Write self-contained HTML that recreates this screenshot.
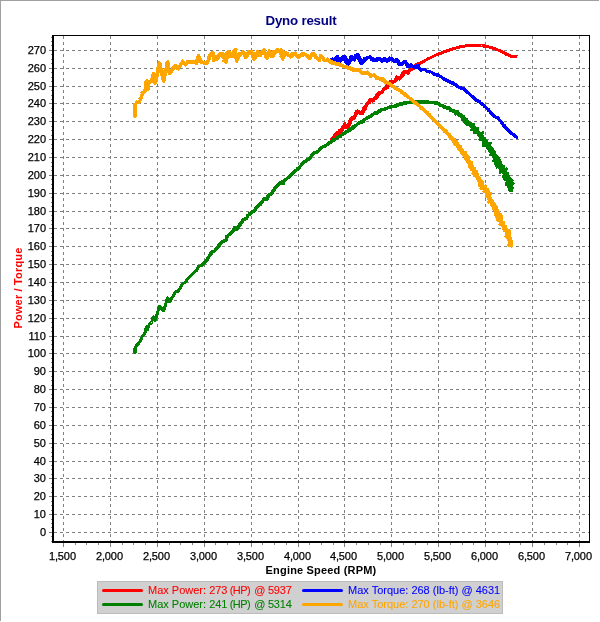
<!DOCTYPE html>
<html lang="en">
<head>
<meta charset="utf-8">
<title>Dyno result</title>
<style>
html,body{margin:0;padding:0;background:#ffffff;}
body{width:600px;height:622px;overflow:hidden;}
svg{display:block;}
</style>
</head>
<body>
<svg width="600" height="622" viewBox="0 0 600 622">
<rect x="0" y="0" width="600" height="622" fill="#ffffff"/>
<g shape-rendering="crispEdges">
<rect x="0" y="0" width="599" height="1" fill="#a0a0a0"/>
<rect x="0" y="0" width="1" height="621" fill="#a0a0a0"/>
<line x1="54" y1="532.5" x2="589" y2="532.5" stroke="#808080" stroke-width="1" stroke-dasharray="3 3"/>
<line x1="54" y1="514.5" x2="589" y2="514.5" stroke="#808080" stroke-width="1" stroke-dasharray="3 3"/>
<line x1="54" y1="496.5" x2="589" y2="496.5" stroke="#808080" stroke-width="1" stroke-dasharray="3 3"/>
<line x1="54" y1="478.5" x2="589" y2="478.5" stroke="#808080" stroke-width="1" stroke-dasharray="3 3"/>
<line x1="54" y1="461.5" x2="589" y2="461.5" stroke="#808080" stroke-width="1" stroke-dasharray="3 3"/>
<line x1="54" y1="443.5" x2="589" y2="443.5" stroke="#808080" stroke-width="1" stroke-dasharray="3 3"/>
<line x1="54" y1="425.5" x2="589" y2="425.5" stroke="#808080" stroke-width="1" stroke-dasharray="3 3"/>
<line x1="54" y1="407.5" x2="589" y2="407.5" stroke="#808080" stroke-width="1" stroke-dasharray="3 3"/>
<line x1="54" y1="389.5" x2="589" y2="389.5" stroke="#808080" stroke-width="1" stroke-dasharray="3 3"/>
<line x1="54" y1="371.5" x2="589" y2="371.5" stroke="#808080" stroke-width="1" stroke-dasharray="3 3"/>
<line x1="54" y1="353.5" x2="589" y2="353.5" stroke="#808080" stroke-width="1" stroke-dasharray="3 3"/>
<line x1="54" y1="336.5" x2="589" y2="336.5" stroke="#808080" stroke-width="1" stroke-dasharray="3 3"/>
<line x1="54" y1="318.5" x2="589" y2="318.5" stroke="#808080" stroke-width="1" stroke-dasharray="3 3"/>
<line x1="54" y1="300.5" x2="589" y2="300.5" stroke="#808080" stroke-width="1" stroke-dasharray="3 3"/>
<line x1="54" y1="282.5" x2="589" y2="282.5" stroke="#808080" stroke-width="1" stroke-dasharray="3 3"/>
<line x1="54" y1="264.5" x2="589" y2="264.5" stroke="#808080" stroke-width="1" stroke-dasharray="3 3"/>
<line x1="54" y1="246.5" x2="589" y2="246.5" stroke="#808080" stroke-width="1" stroke-dasharray="3 3"/>
<line x1="54" y1="228.5" x2="589" y2="228.5" stroke="#808080" stroke-width="1" stroke-dasharray="3 3"/>
<line x1="54" y1="211.5" x2="589" y2="211.5" stroke="#808080" stroke-width="1" stroke-dasharray="3 3"/>
<line x1="54" y1="193.5" x2="589" y2="193.5" stroke="#808080" stroke-width="1" stroke-dasharray="3 3"/>
<line x1="54" y1="175.5" x2="589" y2="175.5" stroke="#808080" stroke-width="1" stroke-dasharray="3 3"/>
<line x1="54" y1="157.5" x2="589" y2="157.5" stroke="#808080" stroke-width="1" stroke-dasharray="3 3"/>
<line x1="54" y1="139.5" x2="589" y2="139.5" stroke="#808080" stroke-width="1" stroke-dasharray="3 3"/>
<line x1="54" y1="121.5" x2="589" y2="121.5" stroke="#808080" stroke-width="1" stroke-dasharray="3 3"/>
<line x1="54" y1="103.5" x2="589" y2="103.5" stroke="#808080" stroke-width="1" stroke-dasharray="3 3"/>
<line x1="54" y1="86.5" x2="589" y2="86.5" stroke="#808080" stroke-width="1" stroke-dasharray="3 3"/>
<line x1="54" y1="68.5" x2="589" y2="68.5" stroke="#808080" stroke-width="1" stroke-dasharray="3 3"/>
<line x1="54" y1="50.5" x2="589" y2="50.5" stroke="#808080" stroke-width="1" stroke-dasharray="3 3"/>
<line x1="63.5" y1="36" x2="63.5" y2="541" stroke="#808080" stroke-width="1" stroke-dasharray="3 3"/>
<line x1="110.5" y1="36" x2="110.5" y2="541" stroke="#808080" stroke-width="1" stroke-dasharray="3 3"/>
<line x1="157.5" y1="36" x2="157.5" y2="541" stroke="#808080" stroke-width="1" stroke-dasharray="3 3"/>
<line x1="204.5" y1="36" x2="204.5" y2="541" stroke="#808080" stroke-width="1" stroke-dasharray="3 3"/>
<line x1="251.5" y1="36" x2="251.5" y2="541" stroke="#808080" stroke-width="1" stroke-dasharray="3 3"/>
<line x1="298.5" y1="36" x2="298.5" y2="541" stroke="#808080" stroke-width="1" stroke-dasharray="3 3"/>
<line x1="344.5" y1="36" x2="344.5" y2="541" stroke="#808080" stroke-width="1" stroke-dasharray="3 3"/>
<line x1="391.5" y1="36" x2="391.5" y2="541" stroke="#808080" stroke-width="1" stroke-dasharray="3 3"/>
<line x1="438.5" y1="36" x2="438.5" y2="541" stroke="#808080" stroke-width="1" stroke-dasharray="3 3"/>
<line x1="485.5" y1="36" x2="485.5" y2="541" stroke="#808080" stroke-width="1" stroke-dasharray="3 3"/>
<line x1="532.5" y1="36" x2="532.5" y2="541" stroke="#808080" stroke-width="1" stroke-dasharray="3 3"/>
<line x1="579.5" y1="36" x2="579.5" y2="541" stroke="#808080" stroke-width="1" stroke-dasharray="3 3"/>
<rect x="49" y="532" width="3" height="1" fill="#808080"/>
<rect x="51" y="527" width="1" height="1" fill="#808080"/>
<rect x="51" y="523" width="1" height="1" fill="#808080"/>
<rect x="51" y="519" width="1" height="1" fill="#808080"/>
<rect x="49" y="514" width="3" height="1" fill="#808080"/>
<rect x="51" y="510" width="1" height="1" fill="#808080"/>
<rect x="51" y="505" width="1" height="1" fill="#808080"/>
<rect x="51" y="501" width="1" height="1" fill="#808080"/>
<rect x="49" y="496" width="3" height="1" fill="#808080"/>
<rect x="51" y="492" width="1" height="1" fill="#808080"/>
<rect x="51" y="487" width="1" height="1" fill="#808080"/>
<rect x="51" y="483" width="1" height="1" fill="#808080"/>
<rect x="49" y="478" width="3" height="1" fill="#808080"/>
<rect x="51" y="474" width="1" height="1" fill="#808080"/>
<rect x="51" y="469" width="1" height="1" fill="#808080"/>
<rect x="51" y="465" width="1" height="1" fill="#808080"/>
<rect x="49" y="461" width="3" height="1" fill="#808080"/>
<rect x="51" y="456" width="1" height="1" fill="#808080"/>
<rect x="51" y="452" width="1" height="1" fill="#808080"/>
<rect x="51" y="447" width="1" height="1" fill="#808080"/>
<rect x="49" y="443" width="3" height="1" fill="#808080"/>
<rect x="51" y="438" width="1" height="1" fill="#808080"/>
<rect x="51" y="434" width="1" height="1" fill="#808080"/>
<rect x="51" y="429" width="1" height="1" fill="#808080"/>
<rect x="49" y="425" width="3" height="1" fill="#808080"/>
<rect x="51" y="420" width="1" height="1" fill="#808080"/>
<rect x="51" y="416" width="1" height="1" fill="#808080"/>
<rect x="51" y="411" width="1" height="1" fill="#808080"/>
<rect x="49" y="407" width="3" height="1" fill="#808080"/>
<rect x="51" y="403" width="1" height="1" fill="#808080"/>
<rect x="51" y="398" width="1" height="1" fill="#808080"/>
<rect x="51" y="394" width="1" height="1" fill="#808080"/>
<rect x="49" y="389" width="3" height="1" fill="#808080"/>
<rect x="51" y="385" width="1" height="1" fill="#808080"/>
<rect x="51" y="380" width="1" height="1" fill="#808080"/>
<rect x="51" y="376" width="1" height="1" fill="#808080"/>
<rect x="49" y="371" width="3" height="1" fill="#808080"/>
<rect x="51" y="367" width="1" height="1" fill="#808080"/>
<rect x="51" y="362" width="1" height="1" fill="#808080"/>
<rect x="51" y="358" width="1" height="1" fill="#808080"/>
<rect x="49" y="353" width="3" height="1" fill="#808080"/>
<rect x="51" y="349" width="1" height="1" fill="#808080"/>
<rect x="51" y="344" width="1" height="1" fill="#808080"/>
<rect x="51" y="340" width="1" height="1" fill="#808080"/>
<rect x="49" y="336" width="3" height="1" fill="#808080"/>
<rect x="51" y="331" width="1" height="1" fill="#808080"/>
<rect x="51" y="327" width="1" height="1" fill="#808080"/>
<rect x="51" y="322" width="1" height="1" fill="#808080"/>
<rect x="49" y="318" width="3" height="1" fill="#808080"/>
<rect x="51" y="313" width="1" height="1" fill="#808080"/>
<rect x="51" y="309" width="1" height="1" fill="#808080"/>
<rect x="51" y="304" width="1" height="1" fill="#808080"/>
<rect x="49" y="300" width="3" height="1" fill="#808080"/>
<rect x="51" y="295" width="1" height="1" fill="#808080"/>
<rect x="51" y="291" width="1" height="1" fill="#808080"/>
<rect x="51" y="286" width="1" height="1" fill="#808080"/>
<rect x="49" y="282" width="3" height="1" fill="#808080"/>
<rect x="51" y="278" width="1" height="1" fill="#808080"/>
<rect x="51" y="273" width="1" height="1" fill="#808080"/>
<rect x="51" y="269" width="1" height="1" fill="#808080"/>
<rect x="49" y="264" width="3" height="1" fill="#808080"/>
<rect x="51" y="260" width="1" height="1" fill="#808080"/>
<rect x="51" y="255" width="1" height="1" fill="#808080"/>
<rect x="51" y="251" width="1" height="1" fill="#808080"/>
<rect x="49" y="246" width="3" height="1" fill="#808080"/>
<rect x="51" y="242" width="1" height="1" fill="#808080"/>
<rect x="51" y="237" width="1" height="1" fill="#808080"/>
<rect x="51" y="233" width="1" height="1" fill="#808080"/>
<rect x="49" y="228" width="3" height="1" fill="#808080"/>
<rect x="51" y="224" width="1" height="1" fill="#808080"/>
<rect x="51" y="220" width="1" height="1" fill="#808080"/>
<rect x="51" y="215" width="1" height="1" fill="#808080"/>
<rect x="49" y="211" width="3" height="1" fill="#808080"/>
<rect x="51" y="206" width="1" height="1" fill="#808080"/>
<rect x="51" y="202" width="1" height="1" fill="#808080"/>
<rect x="51" y="197" width="1" height="1" fill="#808080"/>
<rect x="49" y="193" width="3" height="1" fill="#808080"/>
<rect x="51" y="188" width="1" height="1" fill="#808080"/>
<rect x="51" y="184" width="1" height="1" fill="#808080"/>
<rect x="51" y="179" width="1" height="1" fill="#808080"/>
<rect x="49" y="175" width="3" height="1" fill="#808080"/>
<rect x="51" y="170" width="1" height="1" fill="#808080"/>
<rect x="51" y="166" width="1" height="1" fill="#808080"/>
<rect x="51" y="162" width="1" height="1" fill="#808080"/>
<rect x="49" y="157" width="3" height="1" fill="#808080"/>
<rect x="51" y="153" width="1" height="1" fill="#808080"/>
<rect x="51" y="148" width="1" height="1" fill="#808080"/>
<rect x="51" y="144" width="1" height="1" fill="#808080"/>
<rect x="49" y="139" width="3" height="1" fill="#808080"/>
<rect x="51" y="135" width="1" height="1" fill="#808080"/>
<rect x="51" y="130" width="1" height="1" fill="#808080"/>
<rect x="51" y="126" width="1" height="1" fill="#808080"/>
<rect x="49" y="121" width="3" height="1" fill="#808080"/>
<rect x="51" y="117" width="1" height="1" fill="#808080"/>
<rect x="51" y="112" width="1" height="1" fill="#808080"/>
<rect x="51" y="108" width="1" height="1" fill="#808080"/>
<rect x="49" y="103" width="3" height="1" fill="#808080"/>
<rect x="51" y="99" width="1" height="1" fill="#808080"/>
<rect x="51" y="95" width="1" height="1" fill="#808080"/>
<rect x="51" y="90" width="1" height="1" fill="#808080"/>
<rect x="49" y="86" width="3" height="1" fill="#808080"/>
<rect x="51" y="81" width="1" height="1" fill="#808080"/>
<rect x="51" y="77" width="1" height="1" fill="#808080"/>
<rect x="51" y="72" width="1" height="1" fill="#808080"/>
<rect x="49" y="68" width="3" height="1" fill="#808080"/>
<rect x="51" y="63" width="1" height="1" fill="#808080"/>
<rect x="51" y="59" width="1" height="1" fill="#808080"/>
<rect x="51" y="54" width="1" height="1" fill="#808080"/>
<rect x="49" y="50" width="3" height="1" fill="#808080"/>
<rect x="51" y="45" width="1" height="1" fill="#808080"/>
<rect x="51" y="41" width="1" height="1" fill="#808080"/>
<rect x="51" y="37" width="1" height="1" fill="#808080"/>
<rect x="51" y="536" width="1" height="1" fill="#808080"/>
<rect x="51" y="541" width="1" height="1" fill="#808080"/>
<rect x="63" y="543" width="1" height="4" fill="#808080"/>
<rect x="75" y="543" width="1" height="2" fill="#808080"/>
<rect x="86" y="543" width="1" height="2" fill="#808080"/>
<rect x="98" y="543" width="1" height="2" fill="#808080"/>
<rect x="110" y="543" width="1" height="4" fill="#808080"/>
<rect x="122" y="543" width="1" height="2" fill="#808080"/>
<rect x="133" y="543" width="1" height="2" fill="#808080"/>
<rect x="145" y="543" width="1" height="2" fill="#808080"/>
<rect x="157" y="543" width="1" height="4" fill="#808080"/>
<rect x="169" y="543" width="1" height="2" fill="#808080"/>
<rect x="180" y="543" width="1" height="2" fill="#808080"/>
<rect x="192" y="543" width="1" height="2" fill="#808080"/>
<rect x="204" y="543" width="1" height="4" fill="#808080"/>
<rect x="215" y="543" width="1" height="2" fill="#808080"/>
<rect x="227" y="543" width="1" height="2" fill="#808080"/>
<rect x="239" y="543" width="1" height="2" fill="#808080"/>
<rect x="251" y="543" width="1" height="4" fill="#808080"/>
<rect x="262" y="543" width="1" height="2" fill="#808080"/>
<rect x="274" y="543" width="1" height="2" fill="#808080"/>
<rect x="286" y="543" width="1" height="2" fill="#808080"/>
<rect x="298" y="543" width="1" height="4" fill="#808080"/>
<rect x="309" y="543" width="1" height="2" fill="#808080"/>
<rect x="321" y="543" width="1" height="2" fill="#808080"/>
<rect x="333" y="543" width="1" height="2" fill="#808080"/>
<rect x="344" y="543" width="1" height="4" fill="#808080"/>
<rect x="356" y="543" width="1" height="2" fill="#808080"/>
<rect x="368" y="543" width="1" height="2" fill="#808080"/>
<rect x="380" y="543" width="1" height="2" fill="#808080"/>
<rect x="391" y="543" width="1" height="4" fill="#808080"/>
<rect x="403" y="543" width="1" height="2" fill="#808080"/>
<rect x="415" y="543" width="1" height="2" fill="#808080"/>
<rect x="427" y="543" width="1" height="2" fill="#808080"/>
<rect x="438" y="543" width="1" height="4" fill="#808080"/>
<rect x="450" y="543" width="1" height="2" fill="#808080"/>
<rect x="462" y="543" width="1" height="2" fill="#808080"/>
<rect x="473" y="543" width="1" height="2" fill="#808080"/>
<rect x="485" y="543" width="1" height="4" fill="#808080"/>
<rect x="497" y="543" width="1" height="2" fill="#808080"/>
<rect x="509" y="543" width="1" height="2" fill="#808080"/>
<rect x="520" y="543" width="1" height="2" fill="#808080"/>
<rect x="532" y="543" width="1" height="4" fill="#808080"/>
<rect x="544" y="543" width="1" height="2" fill="#808080"/>
<rect x="556" y="543" width="1" height="2" fill="#808080"/>
<rect x="567" y="543" width="1" height="2" fill="#808080"/>
<rect x="579" y="543" width="1" height="4" fill="#808080"/>
</g>
<g fill="none" stroke-width="3" stroke-linejoin="round" stroke-linecap="butt" shape-rendering="crispEdges">
<polyline stroke="#ff0000" points="331.2,140.2 331.2,139.5 331.9,139.6 332.0,138.9 332.7,139.0 332.7,138.2 333.4,138.3 333.4,137.5 334.2,137.6 333.7,136.5 335.1,137.0 334.6,136.0 335.8,136.3 334.9,134.9 336.0,135.3 335.9,134.5 336.9,135.1 336.4,133.5 336.9,133.8 336.9,132.5 337.2,133.4 337.4,133.4 337.8,135.1 337.7,133.9 338.1,135.3 338.2,135.2 338.6,136.4 338.3,134.6 338.9,135.2 338.7,134.3 339.4,134.3 339.1,133.4 339.6,133.2 339.3,132.5 340.2,132.4 339.5,131.5 340.4,131.4 339.6,130.3 341.1,130.6 340.9,129.9 342.4,130.3 341.5,129.2 343.0,129.6 342.3,128.5 343.1,128.5 342.2,127.2 343.5,127.5 343.2,126.6 344.0,126.7 343.8,125.7 344.4,125.8 344.3,124.6 344.9,125.2 345.0,123.8 345.2,125.8 345.5,125.0 345.6,126.0 346.0,125.6 346.0,127.3 346.3,126.8 346.5,127.8 347.0,127.1 347.5,127.4 347.8,126.8 348.9,127.6 348.2,126.0 349.0,126.1 348.5,125.2 349.3,125.1 348.4,124.1 349.7,124.2 349.2,123.4 350.1,123.2 349.4,122.5 351.0,122.5 349.3,121.4 350.9,121.4 350.0,120.5 351.1,120.5 350.7,119.6 351.4,119.7 350.9,118.6 351.6,118.6 351.5,117.9 352.4,118.4 352.3,117.8 353.3,118.3 353.5,118.1 354.2,118.3 354.0,117.4 354.8,117.6 354.3,116.4 355.3,116.6 354.6,115.6 355.4,115.5 355.2,114.8 355.9,114.6 355.5,113.9 356.4,113.8 355.9,112.9 356.8,113.0 356.3,111.9 357.0,112.1 356.8,111.0 357.3,111.5 357.6,111.0 358.1,112.0 358.6,111.1 358.9,112.7 359.5,111.6 359.8,113.1 360.4,112.5 360.8,113.7 361.2,113.1 361.8,113.7 361.9,112.9 362.7,113.5 362.4,112.2 362.9,112.2 362.5,111.2 363.7,111.5 363.0,110.4 363.9,110.4 363.4,109.5 364.4,109.5 363.8,108.6 365.4,108.9 363.9,107.5 365.4,107.8 364.9,106.9 365.9,106.9 365.5,106.1 366.3,106.0 365.9,105.2 366.9,105.2 366.7,104.5 367.4,104.4 367.2,103.6 367.9,103.5 367.6,102.7 368.6,102.8 368.3,101.9 369.6,102.5 369.1,101.2 369.7,101.2 369.4,99.8 370.4,100.5 370.3,99.5 371.3,100.3 371.4,99.6 372.6,101.0 372.5,99.8 373.4,100.6 373.3,99.3 374.1,99.7 374.0,98.6 374.9,99.0 374.9,98.3 375.9,98.6 375.4,97.4 376.9,98.1 376.1,96.7 377.3,97.1 376.3,95.6 377.7,96.2 376.9,94.8 378.3,95.3 378.0,94.4 378.7,94.4 378.4,93.4 379.2,93.6 379.1,92.7 380.1,93.1 380.0,92.3 380.8,92.6 381.0,92.0 382.2,92.8 381.9,91.7 382.6,91.8 382.5,90.9 383.2,90.9 383.2,90.1 383.8,90.2 383.3,88.8 384.5,89.4 384.4,88.6 385.4,88.9 385.1,87.9 386.0,88.1 385.9,87.4 387.1,87.8 386.9,87.0 388.0,87.4 387.0,85.9 388.3,86.3 388.0,85.4 388.7,85.4 388.3,84.4 389.3,84.7 388.9,83.6 389.6,83.6 389.5,82.8 390.3,83.1 389.7,81.5 391.0,82.4 391.1,81.7 392.1,82.5 392.0,81.3 393.3,82.4 393.1,81.3 393.9,81.6 394.0,80.9 394.9,81.3 394.8,80.4 395.9,80.9 395.3,79.6 396.3,80.1 395.8,78.7 396.5,78.9 396.2,77.7 396.8,77.9 396.8,76.9 397.4,77.3 397.6,77.1 398.3,78.0 398.5,77.5 399.4,79.0 399.4,78.1 400.1,78.8 400.0,77.5 400.7,78.1 400.7,77.1 401.2,77.1 401.2,76.3 402.0,76.4 401.2,75.0 402.5,75.4 402.1,74.5 403.3,74.8 402.4,73.5 403.7,73.9 403.1,72.5 404.3,73.2 404.0,71.7 404.9,72.4 404.9,71.3 405.5,71.6 405.7,71.1 406.6,72.7 406.3,71.1 407.1,72.6 407.3,72.0 408.1,73.4 408.1,72.2 408.6,72.5 408.7,71.6 409.2,71.6 409.2,70.7 409.8,70.8 409.9,70.1 410.5,70.0 410.4,69.2 411.6,69.9 411.2,68.6 412.1,69.0 412.0,68.1 413.0,68.7 413.2,68.0 413.9,68.3 414.1,67.6 414.7,67.7 414.8,66.9 415.5,67.0 415.4,66.1 416.3,66.5 415.8,64.9 417.1,65.9 416.6,64.3 417.7,65.0 417.7,64.2 418.8,65.0 418.2,63.1 419.6,64.3 419.5,63.4 420.2,63.4 420.5,63.0 421.0,63.0 421.3,62.4 421.9,62.5 422.1,61.9 422.7,61.8 423.0,61.5 423.5,61.3 423.9,61.0 424.5,61.0 424.8,60.5 425.4,60.5 425.6,60.0 426.2,60.0 426.6,59.6 427.1,59.5 427.5,59.2 428.0,59.1 428.3,58.6 428.9,58.6 429.3,58.3 429.8,58.2 430.2,57.9 430.7,57.9 431.1,57.4 431.6,57.3 432.0,57.0 432.5,56.9 432.9,56.5 433.4,56.4 433.7,56.0 434.3,56.0 434.6,55.6 435.1,55.5 435.5,55.1 436.1,55.1 436.4,54.7 437.1,54.9 437.4,54.5 438.0,54.5 438.3,54.0 438.9,54.1 439.3,53.7 439.8,53.6 440.2,53.4 440.7,53.3 441.1,53.0 441.6,52.9 442.1,52.6 442.6,52.5 443.0,52.2 443.5,52.2 443.9,51.9 444.4,51.8 444.8,51.5 445.4,51.5 445.8,51.2 446.3,51.2 446.8,50.9 447.3,50.9 447.7,50.6 448.2,50.6 448.7,50.3 449.2,50.4 449.6,49.9 450.2,50.0 450.6,49.7 451.1,49.7 451.5,49.3 452.0,49.3 452.4,49.0 453.0,48.9 453.4,48.6 453.9,48.7 454.3,48.4 454.9,48.3 455.3,48.1 455.8,48.1 456.3,47.8 456.8,47.9 457.2,47.5 457.7,47.5 458.2,47.2 458.7,47.2 459.1,47.0 459.7,47.0 460.1,46.7 460.6,46.8 461.1,46.6 461.6,46.6 462.1,46.4 462.6,46.5 463.1,46.3 463.6,46.4 464.1,46.1 464.6,46.1 465.1,45.9 465.6,46.0 466.1,45.8 466.6,45.9 467.0,45.6 467.6,45.9 468.0,45.5 468.6,45.8 469.0,45.3 469.5,45.6 470.0,45.4 470.5,45.5 471.0,45.4 471.5,45.5 472.0,45.3 472.5,45.4 473.0,45.2 473.5,45.5 474.0,45.1 474.5,45.4 475.0,45.1 475.5,45.3 476.0,45.2 476.5,45.3 477.0,45.2 477.5,45.5 478.0,45.3 478.5,45.4 479.0,45.3 479.5,45.6 480.0,45.3 480.5,45.4 481.0,45.4 481.5,45.5 482.0,45.5 482.5,45.7 483.0,45.7 483.5,46.1 484.0,45.9 484.5,46.1 485.0,46.0 485.4,46.3 486.0,46.3 486.4,46.5 487.0,46.3 487.4,46.8 487.9,46.6 488.3,47.0 488.9,46.9 489.3,47.1 489.8,47.2 490.3,47.4 490.8,47.4 491.3,47.7 491.8,47.6 492.2,48.0 492.7,48.0 493.2,48.3 493.7,48.2 494.1,48.6 494.7,48.4 495.1,48.9 495.6,48.9 496.0,49.2 496.6,49.2 496.9,49.6 497.4,49.7 497.8,50.0 498.4,50.0 498.7,50.6 499.3,50.5 499.6,51.0 500.2,50.9 500.6,51.2 501.1,51.3 501.5,51.6 502.0,51.7 502.3,52.2 502.9,52.2 503.3,52.6 503.8,52.7 504.1,53.1 504.7,53.1 504.9,53.7 505.6,53.6 505.8,54.1 506.4,54.0 506.8,54.5 507.2,54.6 507.6,55.0 508.2,54.9 508.6,55.4 509.1,55.5 509.4,55.9 510.0,55.9 510.4,56.1 510.9,56.0 511.4,56.3 511.9,56.2 512.4,56.4 512.9,56.3 513.4,56.6 513.9,56.5 514.4,56.7 514.9,56.4 515.4,56.6 515.9,56.4 516.4,56.6 516.9,56.4 517.4,56.6"/>
<polyline stroke="#0000ff" points="330.9,59.9 331.5,59.2 332.0,60.0 332.4,58.9 333.1,60.1 333.4,59.3 334.2,60.6 334.4,59.6 335.1,60.5 335.2,59.0 335.7,59.9 335.8,57.4 336.2,58.9 336.7,56.7 336.8,58.0 337.7,56.3 337.0,58.5 337.9,58.1 336.9,59.6 338.1,59.4 337.1,60.4 338.4,60.4 337.2,61.5 338.5,61.4 336.9,63.0 338.7,62.1 338.2,63.6 338.5,63.0 338.9,63.4 338.4,61.7 339.6,62.8 338.9,61.1 340.0,61.7 339.3,60.4 340.4,60.7 339.4,59.2 340.9,60.0 339.8,58.3 341.5,59.5 341.5,58.8 342.5,59.3 341.9,57.6 343.6,59.7 343.0,56.7 343.8,58.1 344.1,57.1 344.4,57.8 344.9,56.3 344.7,57.6 345.4,56.9 345.1,57.9 345.8,57.9 344.9,59.0 346.4,58.8 345.5,59.8 346.4,59.9 345.7,60.7 347.0,60.7 345.7,61.9 347.0,61.6 346.0,63.0 347.2,62.5 347.2,63.4 347.9,63.0 348.1,64.2 348.4,63.5 348.8,63.8 348.5,62.4 349.5,63.0 348.2,61.2 349.7,61.8 348.4,60.5 350.3,60.9 349.6,60.1 350.4,59.9 350.1,59.2 351.1,59.2 350.6,58.2 351.1,58.1 350.8,57.1 351.7,58.0 351.4,56.1 351.8,57.1 352.1,56.8 352.3,57.9 352.7,57.8 352.9,58.9 353.3,58.7 353.4,59.9 353.8,59.3 354.1,60.1 354.2,59.1 354.9,59.6 354.5,58.1 355.4,58.5 354.5,57.0 355.7,57.4 355.5,56.6 356.3,56.7 355.8,55.4 356.8,56.0 356.6,54.7 357.0,54.8 357.2,54.6 357.3,55.6 358.3,54.8 357.6,56.4 358.4,56.4 358.1,57.2 359.5,57.0 357.8,58.5 359.9,57.9 358.6,59.2 359.9,59.1 359.3,60.0 360.8,59.7 359.7,60.9 360.9,60.7 360.4,61.7 361.4,61.4 360.7,63.2 361.9,61.7 361.7,63.6 362.1,62.9 362.4,63.3 362.6,62.4 363.1,62.5 363.1,61.6 363.9,61.9 363.4,60.6 364.3,60.8 364.3,60.1 364.9,60.0 364.3,58.6 365.6,59.4 365.5,58.4 366.5,58.9 366.5,57.9 367.3,58.4 367.4,57.5 368.1,58.0 368.4,57.1 369.0,57.6 369.5,56.8 369.9,57.7 370.5,56.7 370.7,57.6 371.2,57.4 371.3,58.5 371.9,58.1 371.6,59.8 372.5,59.0 372.6,59.9 373.5,59.0 373.4,60.5 374.3,59.1 374.4,60.6 375.0,60.1 375.5,60.7 375.9,59.8 376.5,60.5 376.7,59.0 377.3,60.0 377.6,58.4 378.2,59.5 378.6,58.8 379.0,59.8 379.5,58.2 379.9,59.1 380.3,58.7 380.6,59.7 381.1,59.1 381.4,60.6 381.8,60.1 382.0,61.5 382.8,59.9 383.1,60.6 383.9,58.9 384.1,60.3 384.7,58.6 385.1,60.6 385.5,59.2 386.0,60.3 386.2,59.3 387.1,61.5 387.2,60.5 387.8,61.2 388.0,60.0 388.5,60.5 388.7,58.5 389.1,59.5 389.4,57.8 389.8,59.0 390.2,58.1 390.6,59.1 391.1,58.4 391.3,59.6 392.2,58.6 392.1,60.2 392.7,59.9 392.9,60.9 393.5,60.6 393.7,61.5 394.3,60.8 394.6,61.9 395.1,61.1 395.4,61.3 396.0,59.6 396.0,60.8 396.6,59.7 396.7,60.1 397.2,59.4 397.0,61.1 397.8,60.3 397.2,61.9 398.4,61.2 398.2,62.1 399.0,62.0 398.3,63.5 399.3,63.0 399.3,63.9 400.0,63.4 399.8,65.0 400.4,64.0 400.8,64.3 401.2,63.5 401.8,64.5 402.1,63.0 402.6,63.6 402.9,62.5 403.5,63.0 403.9,61.5 404.4,62.6 405.1,61.1 405.0,63.0 405.9,61.8 405.8,63.0 406.3,63.0 406.3,63.8 407.0,63.6 406.6,64.9 407.5,64.4 407.2,65.7 407.9,65.4 407.6,66.9 408.6,65.3 408.6,66.4 409.2,65.5 409.3,66.8 410.1,65.2 410.4,65.5 411.0,64.5 411.3,65.6 411.8,65.1 412.1,66.0 412.6,65.8 412.9,66.6 413.4,66.3 413.7,67.4 414.4,66.5 414.6,67.4 415.3,66.6 415.7,67.0 416.5,65.7 416.6,67.1 417.4,66.2 417.6,66.9 418.6,65.6 418.3,67.4 419.1,67.0 418.8,68.4 419.6,67.9 419.6,68.9 420.3,68.5 420.4,69.5 420.8,69.6 421.1,70.1 421.6,69.7 421.9,70.1 422.6,69.3 422.9,69.8 423.5,69.1 423.9,69.2 424.4,69.2 424.7,69.8 425.2,69.7 425.5,70.4 426.0,70.4 426.2,71.1 426.7,71.1 427.0,71.7 427.6,71.4 427.9,71.9 428.6,71.4 429.0,71.9 429.6,71.6 429.9,72.1 430.6,71.8 431.0,72.1 431.5,72.2 431.8,72.7 432.3,72.7 432.7,73.2 433.2,73.2 433.5,73.7 434.0,73.8 434.2,74.6 434.9,74.2 435.3,74.7 435.9,74.5 436.2,75.0 436.8,74.8 437.0,75.6 437.9,74.8 438.0,75.8 438.7,75.4 439.0,75.9 439.6,76.0 439.9,76.5 440.5,76.3 440.8,76.9 441.3,77.0 441.6,77.4 442.2,77.5 442.4,78.0 443.0,78.0 443.3,78.5 443.9,78.5 444.0,79.3 444.7,79.0 445.0,79.6 445.6,79.5 445.9,80.1 446.6,79.8 446.8,80.5 447.4,80.4 447.7,81.0 448.4,80.7 448.6,81.4 449.3,81.1 449.4,81.9 450.2,81.6 450.3,82.4 451.0,82.2 451.2,82.8 451.9,82.6 452.1,83.2 452.9,82.9 452.9,83.8 453.8,83.3 453.9,84.1 454.6,84.0 454.8,84.6 455.4,84.5 455.6,85.2 456.3,85.0 456.5,85.7 457.1,85.6 457.2,86.3 457.9,86.2 458.1,86.8 458.7,86.8 458.8,87.6 459.5,87.3 459.8,87.8 460.4,87.8 460.8,88.2 461.4,88.0 461.6,88.7 462.3,88.5 462.6,89.0 463.2,88.9 463.6,89.3 464.3,89.0 464.5,89.6 465.2,89.5 465.2,90.3 465.7,90.5 465.9,91.0 466.6,91.0 466.6,91.7 467.2,91.8 467.4,92.4 468.0,92.5 468.1,93.0 468.8,93.0 468.8,93.7 469.5,93.8 469.6,94.4 470.2,94.4 470.4,95.0 471.0,95.0 471.1,95.7 471.6,95.8 471.7,96.5 472.5,96.4 472.6,97.0 473.4,96.9 473.4,97.7 474.1,97.6 473.9,98.6 474.6,98.5 474.9,99.0 475.4,99.1 475.4,99.9 476.2,99.7 476.4,100.3 477.0,100.3 477.3,100.8 477.9,100.8 478.1,101.3 478.7,101.4 478.9,101.9 479.7,101.7 479.7,102.5 480.3,102.6 480.6,103.1 481.1,103.2 481.3,103.8 481.9,103.8 482.1,104.4 482.7,104.4 482.8,105.1 483.4,105.1 483.7,105.6 484.3,105.6 484.4,106.3 485.0,106.3 485.1,106.9 485.7,107.0 485.8,107.7 486.4,107.8 486.6,108.3 487.1,108.5 487.2,109.1 487.9,109.1 488.0,109.7 488.8,109.6 488.5,110.6 489.3,110.6 489.4,111.1 490.0,111.2 490.1,111.9 490.6,112.1 490.4,112.9 491.4,112.7 491.3,113.4 491.9,113.6 491.8,114.3 492.5,114.4 492.6,114.9 493.2,115.1 493.2,115.8 493.9,115.7 493.9,116.5 494.5,116.4 494.8,116.9 495.4,116.8 495.7,117.3 496.4,117.1 496.7,117.6 497.4,117.5 497.5,118.1 498.2,117.9 498.3,118.6 498.8,118.8 498.9,119.4 499.4,119.6 499.6,120.1 500.1,120.3 500.1,120.9 500.7,121.2 500.8,121.7 501.4,121.9 501.1,122.7 502.1,122.6 502.0,123.3 502.6,123.4 502.5,124.2 503.2,124.3 503.2,124.9 503.8,125.1 503.6,125.9 504.6,125.7 504.4,126.5 505.0,126.7 505.1,127.2 505.7,127.4 505.7,128.1 506.3,128.2 506.3,128.9 507.0,128.9 507.2,129.4 507.8,129.5 507.9,130.1 508.4,130.3 508.4,131.0 509.1,131.0 509.3,131.5 509.8,131.7 510.1,132.2 510.7,132.2 510.8,132.9 511.5,132.8 511.6,133.5 512.3,133.4 512.4,134.1 513.0,134.1 513.2,134.6 513.8,134.7 513.8,135.5 514.6,135.3 514.8,135.9 515.3,136.0 515.5,136.5 516.1,136.7 516.3,137.2 516.9,137.3 517.0,137.9 517.6,138.0"/>
<polyline stroke="#008000" points="134.0,347.6 134.1,348.1 134.2,348.6 134.3,349.1 134.4,349.6 134.5,350.1 134.6,350.6 134.7,351.1 134.8,351.5 134.9,352.0 134.9,352.5 135.0,352.6 135.1,352.1 135.2,351.6 135.2,351.1 135.3,350.6 135.4,350.1 135.4,349.6 135.5,349.1 135.6,348.6 135.7,348.1 135.8,347.6 135.9,347.1 135.9,346.6 136.1,346.1 136.2,345.7 136.4,345.2 136.7,344.8 137.0,344.5 137.5,344.3 138.0,344.1 138.4,343.8 138.7,343.4 138.9,343.0 139.2,342.6 139.4,342.1 139.7,341.7 140.0,341.3 140.2,340.9 140.5,340.4 140.7,340.0 141.0,339.5 141.2,339.1 141.3,338.6 141.5,338.2 141.7,337.7 141.9,337.2 142.1,336.8 142.3,336.3 142.5,335.9 142.8,335.5 143.2,335.1 143.5,334.7 143.8,334.3 144.1,334.0 144.5,333.6 144.8,333.2 145.0,332.8 145.1,332.3 145.2,331.8 145.3,331.3 145.4,330.8 145.5,330.3 145.6,329.8 145.7,329.3 145.8,328.8 145.9,328.4 146.0,327.9 146.1,327.4 146.3,326.9 146.5,326.8 146.7,327.3 146.8,327.8 147.0,328.2 147.1,328.7 147.3,329.2 147.4,329.7 147.6,329.7 147.7,329.2 147.8,328.7 148.0,328.3 148.1,327.8 148.3,327.3 148.4,326.8 148.5,326.3 148.7,325.9 148.8,325.4 149.0,324.9 149.3,324.5 149.6,324.2 150.0,323.8 150.4,323.5 150.7,323.2 151.1,322.8 151.5,322.5 151.7,322.0 151.9,321.6 152.0,321.1 152.2,320.6 152.3,320.1 152.4,319.7 152.6,319.2 152.7,318.7 152.8,318.2 153.0,317.7 153.2,317.3 153.5,317.0 153.7,317.5 153.9,317.9 154.1,318.4 154.3,318.8 154.5,319.3 154.7,319.8 154.9,320.2 155.1,320.0 155.3,319.6 155.4,319.1 155.6,318.6 155.7,318.1 155.9,317.7 156.1,317.2 156.2,316.7 156.4,316.2 156.5,315.8 156.7,315.3 156.8,314.8 157.0,314.3 157.2,313.9 157.3,313.4 157.5,312.9 157.6,312.4 157.8,312.0 157.9,311.5 158.0,311.0 158.2,310.5 158.3,310.0 158.5,309.6 158.6,309.1 158.7,308.6 158.9,308.1 159.0,307.6 159.1,307.2 159.3,306.7 159.4,306.2 159.6,306.1 159.9,306.5 160.2,306.9 160.5,307.3 160.8,307.7 161.1,308.1 161.4,308.5 161.7,308.9 162.0,309.3 162.3,309.7 162.7,310.1 163.0,310.4 163.3,310.8 163.6,310.9 163.8,310.5 164.1,310.0 164.2,309.6 164.3,309.1 164.4,308.6 164.6,308.1 164.7,307.6 164.8,307.2 165.0,306.7 165.1,306.2 165.2,305.7 165.4,305.2 165.5,304.7 165.6,304.3 165.8,303.8 165.9,303.3 166.0,302.8 166.2,302.3 166.3,301.9 166.5,301.4 166.6,300.9 166.8,300.4 166.9,299.9 167.0,299.5 167.2,299.0 167.3,298.5 167.5,298.0 167.7,298.2 167.9,298.7 168.2,299.1 168.4,299.5 168.6,300.0 168.9,300.4 169.1,300.9 169.3,301.3 169.7,301.5 170.1,301.3 170.3,300.9 170.5,300.4 170.8,300.0 171.0,299.6 171.3,299.1 171.5,298.7 171.7,298.2 172.0,297.8 172.2,297.4 172.5,296.9 172.7,296.5 173.0,296.1 173.3,295.7 173.5,295.2 173.8,294.8 174.1,294.4 174.3,294.0 174.6,293.5 174.9,293.1 175.1,292.7 175.4,292.3 175.8,291.9 176.2,291.7 176.7,291.7 177.2,291.6 177.7,291.6 178.1,291.4 178.3,291.0 178.6,290.6 178.8,290.1 179.1,289.7 179.3,289.3 179.6,288.8 179.8,288.4 180.1,288.0 180.3,287.5 180.6,287.1 180.8,286.7 181.1,286.2 181.3,285.8 181.6,285.4 181.8,284.9 182.1,284.5 182.3,284.1 182.7,283.7 183.1,283.5 183.5,283.2 184.0,283.0 184.4,282.7 184.8,282.5 185.3,282.2 185.7,281.9 186.0,281.6 186.2,281.1 186.5,280.7 186.7,280.3 187.0,279.8 187.2,279.4 187.5,279.0 187.8,278.6 188.2,278.3 188.6,277.9 188.9,277.6 189.3,277.2 189.6,276.9 190.0,276.5 190.4,276.2 190.7,275.8 191.1,275.5 191.4,275.1 191.8,274.8 192.1,274.4 192.5,274.1 192.8,273.7 193.2,273.4 193.5,273.0 193.9,272.7 194.3,272.3 194.7,272.0 195.0,271.7 195.4,271.4 195.8,271.0 196.2,270.7 196.6,270.4 196.8,269.9 197.0,269.5 197.2,269.0 197.4,268.6 197.6,268.1 197.8,267.6 197.9,267.2 198.2,266.7 198.5,266.3 198.9,266.2 199.4,266.2 199.9,266.1 200.3,265.9 201.0,266.0 201.1,265.3 201.8,265.5 201.9,264.7 202.6,264.8 202.7,264.1 203.3,264.1 203.4,263.4 204.1,263.5 204.2,262.8 204.9,262.8 204.7,261.9 205.5,262.1 205.6,261.4 206.2,261.3 206.3,260.7 207.2,260.8 206.7,259.8 207.4,259.7 207.4,259.0 207.9,258.8 207.7,258.1 208.5,258.0 208.0,257.1 209.0,257.1 208.8,256.5 209.4,256.2 209.3,255.6 209.9,255.3 209.7,254.7 210.4,254.5 210.3,253.8 211.3,253.9 210.6,252.7 211.5,252.8 211.4,252.1 212.0,252.0 212.0,251.3 212.5,251.2 212.8,251.0 213.5,251.5 213.7,251.3 214.3,251.4 214.4,250.8 214.9,250.7 215.1,250.0 215.6,249.9 215.7,249.3 216.4,249.2 216.2,248.4 216.9,248.3 217.0,247.8 217.7,247.7 217.6,247.0 218.5,247.0 218.2,246.2 218.8,246.0 218.4,245.0 219.6,245.4 219.3,244.5 220.1,244.6 219.7,243.6 220.4,243.5 220.5,242.9 221.3,243.1 221.3,242.2 222.0,242.4 222.1,241.6 222.6,241.5 222.9,241.1 223.8,241.5 223.8,240.7 224.6,241.0 224.8,240.7 225.5,240.8 225.5,240.1 226.3,240.2 226.1,239.4 226.6,239.2 226.3,238.4 226.8,238.2 226.7,237.5 227.2,237.2 226.7,236.3 227.9,236.5 227.5,235.7 228.1,235.6 228.3,235.1 229.1,235.1 229.1,234.5 229.8,234.5 229.9,233.9 230.6,233.9 230.6,233.2 231.4,233.2 231.4,232.6 232.0,232.5 232.1,231.9 232.7,231.8 232.6,231.0 233.2,230.9 233.1,230.1 233.8,230.2 233.7,229.2 234.3,229.2 234.3,228.5 234.9,228.6 234.6,227.3 235.6,228.5 235.5,228.2 236.3,229.3 236.0,228.6 236.9,229.3 236.8,228.2 237.5,228.5 237.2,227.3 238.2,227.9 238.0,226.9 238.9,227.0 238.4,226.0 239.1,225.9 239.0,225.2 239.9,225.3 239.6,224.4 240.5,224.4 240.1,223.5 240.8,223.4 240.9,222.9 241.6,222.8 241.2,221.8 242.1,222.0 242.0,221.1 242.9,221.4 242.7,220.4 243.2,220.3 243.3,219.6 244.1,219.8 244.3,219.3 245.0,219.5 245.2,219.0 246.0,219.1 245.7,218.1 246.6,218.3 246.6,217.6 247.1,217.5 247.0,216.7 247.7,216.6 247.3,215.7 248.2,215.8 248.2,215.1 248.8,215.0 248.8,214.3 249.4,214.2 249.3,213.4 250.6,214.0 250.2,212.8 251.1,213.2 251.1,212.3 251.8,212.4 251.9,211.7 252.4,211.7 252.7,211.3 253.5,211.9 253.7,211.7 254.2,211.7 254.3,211.1 254.8,211.0 254.7,210.1 255.3,210.1 255.3,209.4 255.9,209.2 255.9,208.6 256.4,208.3 256.0,207.5 256.9,207.5 256.8,206.8 257.4,206.6 257.4,206.0 258.1,206.0 258.1,205.4 258.9,205.4 258.7,204.6 259.8,204.8 259.8,204.3 260.7,204.4 260.4,203.5 261.0,203.3 261.0,202.7 261.9,202.7 261.7,201.9 262.3,201.8 262.2,201.0 262.8,200.9 262.9,200.3 263.4,200.2 263.4,199.4 263.9,199.3 264.1,198.8 264.9,199.2 264.9,198.6 266.1,199.6 266.1,199.0 266.8,199.2 266.8,198.4 267.6,198.7 267.2,197.5 268.1,197.8 267.6,196.5 268.3,196.6 268.2,195.9 268.7,195.7 268.7,195.1 269.3,195.0 269.4,194.5 270.3,194.7 270.3,194.1 271.2,194.3 271.2,193.7 271.9,193.6 271.8,192.8 272.5,192.8 272.3,192.0 272.9,191.9 272.5,191.0 273.7,191.2 273.2,190.3 273.8,190.1 273.8,189.5 274.5,189.4 274.3,188.6 275.0,188.5 274.8,187.7 276.0,188.0 275.6,187.1 276.3,187.0 276.3,186.3 276.9,186.2 277.1,185.7 277.8,185.7 277.7,184.9 278.4,184.9 278.3,184.0 279.3,184.4 279.3,183.7 280.0,183.8 280.0,182.6 280.6,182.9 280.8,182.1 281.3,182.3 281.6,181.9 282.0,182.7 282.0,182.8 282.4,183.8 282.2,183.4 282.7,183.9 282.8,183.2 283.5,183.4 283.1,182.1 283.8,182.2 283.5,181.2 284.3,181.3 284.4,180.7 285.2,180.8 284.9,179.8 285.6,179.8 285.7,179.3 286.4,179.3 286.6,178.8 287.2,178.7 287.3,178.1 288.0,178.1 287.9,177.2 288.7,177.4 288.8,176.8 289.8,177.1 289.7,176.3 290.3,176.2 290.4,175.5 290.9,175.4 291.1,174.8 292.0,175.0 291.8,174.1 292.4,174.1 292.4,173.3 293.0,173.2 293.1,172.6 293.7,172.5 293.8,171.9 294.4,171.8 294.2,170.8 295.4,171.4 295.0,170.2 296.0,170.6 296.0,169.9 296.7,169.9 296.8,169.3 297.6,169.5 297.4,168.5 298.4,168.9 298.4,168.1 299.2,168.2 299.0,167.3 299.7,167.3 299.8,166.7 300.3,166.5 300.3,165.8 301.1,165.9 301.1,165.2 301.8,165.1 301.7,164.4 302.3,164.3 302.1,163.3 303.0,163.6 303.1,162.9 304.0,163.1 303.8,162.2 304.4,162.2 304.5,161.4 305.3,161.7 305.4,161.0 306.2,161.3 306.1,160.2 306.7,160.3 306.9,159.7 307.8,160.0 307.9,159.4 308.7,159.6 308.8,159.0 309.4,158.9 309.4,158.2 310.0,158.2 309.9,157.3 310.9,157.6 310.6,156.6 311.3,156.6 311.1,155.7 311.7,155.6 311.8,155.0 312.3,154.8 312.3,154.1 313.2,154.4 312.9,153.3 313.7,153.5 313.9,152.9 314.6,153.0 314.7,152.3 315.4,152.6 315.7,152.1 316.3,152.2 316.6,151.6 317.4,152.1 317.5,151.3 318.2,151.3 318.4,150.8 319.1,151.0 319.2,150.4 319.7,150.2 319.7,149.5 320.3,149.4 320.2,148.5 321.0,148.8 320.8,147.8 321.4,147.8 321.6,147.2 322.3,147.3 322.5,146.9 323.2,147.0 323.4,146.4 324.2,146.8 324.5,146.3 325.1,146.4 325.1,145.4 325.8,145.6 326.0,145.1 326.6,145.1 326.8,144.4 327.4,144.5 327.5,143.8 328.2,143.8 328.4,143.3 329.0,143.3 329.3,142.7 330.0,142.9 330.2,142.3 330.8,142.3 331.0,141.7 331.6,141.8 331.6,140.8 332.4,141.2 332.6,140.5 333.3,140.7 333.3,139.7 334.2,140.2 334.4,139.6 335.0,139.7 335.2,139.0 335.8,139.1 336.0,138.5 336.6,138.5 336.9,137.9 337.5,138.0 337.7,137.4 338.3,137.4 338.6,136.9 339.1,136.8 339.1,135.9 340.0,136.3 340.2,135.7 341.0,136.1 341.0,135.1 341.6,135.2 341.8,134.5 342.5,134.6 342.7,134.0 343.5,134.4 343.5,133.5 344.2,133.7 344.4,133.0 345.2,133.4 345.2,132.4 345.8,132.4 345.8,131.6 346.7,132.0 346.9,131.3 347.5,131.4 347.7,130.8 348.6,131.2 348.6,130.2 349.4,130.6 349.4,129.7 350.0,129.7 350.2,129.1 351.1,129.5 351.1,128.6 351.7,128.6 351.9,128.0 352.7,128.4 352.7,127.4 353.4,127.5 353.3,126.5 354.2,126.9 354.4,126.3 355.1,126.5 355.2,125.7 355.8,125.8 356.0,125.1 356.5,125.1 356.8,124.5 357.4,124.5 357.5,123.9 358.2,124.0 358.3,123.2 358.9,123.3 359.1,122.7 359.8,122.9 360.0,122.3 360.8,122.7 361.0,121.9 361.9,122.5 361.9,121.6 362.6,121.8 362.8,121.1 363.6,121.4 363.6,120.5 364.1,120.4 364.2,119.7 364.9,119.8 365.0,119.1 365.7,119.1 365.9,118.5 366.7,118.9 366.6,117.8 367.3,118.0 367.5,117.5 368.3,117.7 368.5,117.1 369.1,117.1 369.3,116.5 370.0,116.7 370.3,116.3 371.1,116.6 371.1,115.7 371.7,115.7 371.9,115.0 372.5,115.1 372.6,114.4 373.3,114.5 373.5,113.8 374.0,113.8 374.3,113.3 375.0,113.5 375.0,112.6 375.9,113.1 376.1,112.5 377.0,113.3 377.1,112.2 377.8,112.5 377.9,111.5 378.6,111.9 378.9,111.4 379.6,111.8 379.6,110.5 380.3,110.9 380.4,110.0 381.2,110.5 381.5,109.9 382.1,110.0 382.4,109.6 383.1,109.7 383.3,109.1 384.0,109.4 384.3,108.9 385.0,109.2 385.3,108.7 385.9,108.9 386.2,108.3 386.8,108.4 387.1,107.9 387.7,108.0 388.1,107.5 388.7,107.7 389.0,107.1 389.6,107.3 390.0,106.8 390.6,107.1 391.0,106.7 391.6,107.3 391.9,106.5 392.6,106.9 392.9,106.1 393.5,106.7 393.9,106.1 394.5,106.3 394.9,105.8 395.5,106.1 395.8,105.5 396.5,106.1 396.6,104.8 397.3,105.4 397.6,104.7 398.3,105.0 398.6,104.5 399.2,104.6 399.5,104.0 400.1,104.3 400.5,103.8 401.1,104.1 401.5,103.6 402.1,104.1 402.5,103.4 403.1,103.8 403.5,103.3 404.1,103.6 404.4,102.7 405.0,103.4 405.5,103.0 406.0,103.4 406.4,102.3 407.0,103.0 407.4,102.4 408.0,102.9 408.4,102.5 409.0,102.8 409.4,102.0 410.0,102.7 410.4,102.2 411.0,102.8 411.4,102.3 412.0,103.0 412.4,102.2 413.0,102.7 413.4,102.1 413.9,102.5 414.4,102.2 414.9,102.5 415.4,102.0 416.0,102.6 416.4,102.0 416.9,102.4 417.4,102.0 417.9,102.3 418.4,101.6 418.9,102.5 419.4,102.0 419.9,102.4 420.4,101.9 420.9,102.2 421.4,102.0 421.9,102.4 422.4,101.8 422.9,102.3 423.4,102.0 423.9,102.3 424.4,101.9 424.9,102.4 425.4,101.9 425.9,102.4 426.4,101.9 426.9,102.9 427.4,102.0 427.9,102.6 428.5,101.7 428.9,102.4 429.4,102.1 429.9,102.5 430.4,102.1 430.9,102.7 431.4,102.2 431.9,102.7 432.4,102.3 432.9,102.8 433.5,102.1 433.9,103.0 434.4,102.6 434.8,103.4 435.4,102.7 435.9,103.1 436.4,102.9 436.8,103.2 437.5,102.9 437.8,103.4 438.4,103.1 438.6,104.0 439.1,103.9 439.3,104.7 440.0,104.2 440.1,105.3 440.8,105.0 441.0,105.6 441.7,105.4 441.9,106.0 442.7,105.6 442.8,106.5 443.5,106.1 443.6,107.2 444.6,106.1 444.8,106.9 445.4,106.8 445.6,107.5 446.3,107.2 446.5,108.1 447.4,107.3 447.3,108.6 448.1,108.1 448.4,108.8 449.4,107.8 449.2,109.2 449.9,109.0 450.1,109.8 451.0,109.1 450.6,111.0 451.7,109.9 451.8,110.7 452.8,110.1 452.7,111.1 453.6,110.6 453.6,111.7 454.5,111.0 454.5,112.1 455.3,111.7 455.3,112.8 456.3,111.9 455.6,114.2 457.6,111.7 456.8,114.0 458.2,112.8 457.8,114.4 458.8,113.7 458.6,114.9 459.8,114.0 459.4,115.4 460.8,114.4 460.2,116.0 461.4,115.2 461.1,116.5 462.0,116.2 461.8,117.2 463.3,116.3 462.3,118.1 463.7,117.2 462.2,119.7 464.6,117.8 463.6,119.6 465.1,118.8 464.6,120.0 466.2,119.1 464.4,121.7 466.7,119.9 465.0,122.5 467.2,120.9 466.8,122.0 467.9,121.6 467.4,122.8 468.6,122.3 467.0,124.8 469.4,122.9 468.9,124.2 470.1,123.6 469.3,125.2 471.3,123.8 470.1,125.8 472.2,124.3 471.1,126.2 473.9,124.1 471.7,127.0 473.1,126.3 472.3,127.7 473.7,127.1 471.7,129.7 474.7,127.6 473.8,129.1 475.4,128.3 473.9,130.3 475.8,129.3 474.7,131.0 477.9,128.6 474.4,132.6 477.7,130.2 475.7,132.8 478.0,131.3 477.0,133.0 478.6,132.1 478.0,133.4 479.5,132.7 478.6,134.2 480.2,133.4 478.9,135.2 482.7,132.7 479.9,135.6 481.6,134.9 480.1,136.7 481.9,135.9 481.1,137.2 482.6,136.7 479.8,139.4 483.1,137.6 482.2,138.8 483.7,138.4 482.8,139.7 485.0,138.7 483.0,140.7 485.3,139.7 483.0,142.0 485.6,140.7 484.3,142.3 486.7,141.1 484.0,143.8 486.7,142.4 483.5,145.4 487.3,143.2 485.3,145.3 487.9,144.0 486.8,145.4 490.4,143.4 487.3,146.3 489.3,145.4 487.2,147.6 490.0,146.2 488.1,148.2 490.3,147.2 489.1,148.6 491.1,147.8 489.8,149.4 491.6,148.7 490.0,150.4 492.7,149.2 490.0,151.6 492.7,150.5 491.1,152.1 493.2,151.3 491.5,152.9 494.3,151.8 490.3,154.8 494.5,152.9 492.9,154.4 495.0,153.8 493.2,155.4 495.2,154.8 493.4,156.4 495.6,155.7 494.0,157.2 496.8,156.2 494.8,157.9 496.7,157.5 494.3,159.3 498.2,157.8 493.5,160.9 497.6,159.2 495.4,161.0 498.7,159.8 496.3,161.6 499.4,160.5 495.2,163.4 500.0,161.3 497.6,163.2 500.4,162.2 498.1,164.1 499.9,163.6 496.7,166.1 500.5,164.5 497.0,167.1 501.0,165.3 499.9,166.6 502.4,165.6 499.6,167.9 503.3,166.2 500.8,168.4 503.1,167.5 500.6,169.7 503.5,168.4 501.0,170.6 503.6,169.5 500.2,172.4 506.2,169.0 503.2,171.6 505.2,170.9 503.7,172.5 505.8,171.7 503.9,173.5 505.9,172.8 504.1,174.5 507.2,173.2 503.1,176.2 507.1,174.5 505.1,176.1 508.1,175.1 505.0,177.3 507.9,176.4 504.5,178.5 508.4,177.2 504.5,179.4 508.7,178.3 506.7,179.6 510.3,178.8 507.5,180.3 509.7,180.0 507.6,181.3 512.2,180.3 507.5,182.4 511.2,181.7 506.2,183.7 510.5,183.0 506.3,184.7 513.3,183.4 508.6,185.0 511.0,185.0 508.1,186.2 511.1,186.0 509.1,187.0 511.9,186.8 509.7,187.9 512.3,187.8 509.9,188.8 511.7,188.9 509.8,189.9 512.0,189.9 510.5,190.7 513.3,190.6"/>
<polyline stroke="#ffa500" points="134.0,103.0 134.0,103.5 134.1,104.0 134.1,104.5 134.1,105.0 134.2,105.5 134.2,106.0 134.2,106.5 134.3,107.0 134.3,107.5 134.4,108.0 134.4,108.5 134.4,109.0 134.5,109.5 134.5,110.0 134.5,110.5 134.6,111.0 134.6,111.5 134.6,112.0 134.7,112.5 134.7,113.0 134.7,113.5 134.8,114.0 134.8,114.5 134.9,115.0 134.9,115.5 134.9,116.0 135.0,116.5 135.0,117.0 135.0,116.5 135.1,116.0 135.1,115.5 135.1,115.0 135.2,114.5 135.2,114.0 135.2,113.5 135.3,113.0 135.3,112.5 135.3,112.0 135.4,111.5 135.4,111.0 135.4,110.5 135.5,110.1 135.5,109.6 135.5,109.1 135.6,108.6 135.6,108.1 135.7,107.6 135.7,107.1 135.8,106.6 135.8,106.1 135.9,105.6 135.9,105.1 135.9,104.6 136.0,104.1 136.1,103.6 136.2,103.1 136.3,102.6 136.4,102.1 136.7,101.8 137.2,102.0 137.5,102.4 137.8,102.7 138.2,103.0 138.6,102.8 138.9,102.3 139.1,101.9 139.4,101.5 139.6,101.0 139.9,100.6 140.4,100.3 140.1,99.6 140.9,99.4 140.0,98.5 141.2,98.4 141.0,97.8 141.5,97.5 141.1,96.8 142.0,96.6 141.3,95.8 142.1,95.6 141.7,94.9 142.6,94.8 142.1,94.0 143.1,94.0 142.0,92.8 143.5,93.2 143.3,92.5 144.1,92.5 144.0,91.9 145.1,92.0 144.4,91.1 145.3,91.1 144.8,90.3 145.9,90.2 144.9,89.4 146.1,89.2 145.1,88.5 145.6,88.0 145.2,87.5 145.9,87.0 145.3,86.5 146.3,86.1 145.4,85.5 145.9,85.0 145.5,84.5 146.0,84.0 145.6,83.5 146.3,83.1 145.5,82.4 146.2,82.1 146.0,81.4 146.6,81.5 146.7,80.6 146.2,81.8 146.9,81.9 145.9,82.8 147.1,82.9 146.3,83.6 147.4,83.9 146.5,84.6 147.3,85.0 146.8,85.5 147.2,86.0 146.9,86.5 147.4,87.0 147.0,87.5 147.5,87.9 147.2,88.6 147.6,88.9 146.9,90.0 147.5,89.7 147.7,89.7 147.5,88.9 148.5,88.8 147.4,87.9 148.4,87.7 147.9,87.0 148.4,86.6 148.0,86.0 148.5,85.6 147.6,84.9 148.7,84.7 148.3,84.0 149.0,83.8 148.6,83.0 149.1,82.8 148.8,82.0 149.4,82.0 148.9,81.2 150.4,82.0 150.2,81.5 151.4,81.9 151.4,81.5 151.9,81.3 151.6,80.5 152.1,80.3 151.9,79.6 152.4,79.3 151.9,78.7 152.5,78.3 152.1,77.7 152.7,77.3 152.1,76.6 152.9,76.4 152.5,75.7 153.0,75.4 152.7,74.7 153.1,74.5 153.3,73.2 153.4,74.5 153.8,74.5 153.3,75.3 154.0,75.5 153.5,76.2 154.7,76.4 153.8,77.2 154.2,77.6 153.7,78.2 154.4,78.6 153.4,79.2 154.8,79.5 154.2,80.1 154.9,80.5 154.4,81.1 154.8,81.5 154.4,82.1 155.2,82.4 154.7,83.2 155.0,83.4 155.0,84.1 154.9,83.2 155.4,83.1 155.2,82.4 155.8,82.2 155.3,81.5 156.1,81.2 155.5,80.5 156.6,80.2 155.8,79.5 156.6,79.2 155.8,78.5 156.5,78.2 155.9,77.5 156.9,77.2 156.2,76.5 157.1,76.2 156.7,75.6 157.5,75.3 156.9,74.7 157.7,74.3 157.0,73.6 157.7,73.3 157.2,72.7 158.4,72.4 157.4,71.7 158.0,71.3 157.7,70.7 158.3,70.3 157.3,69.6 158.5,69.4 157.5,68.7 159.2,68.5 157.8,67.7 159.4,67.5 158.3,66.8 159.6,66.5 158.6,65.8 159.1,65.4 158.9,64.8 159.5,64.5 158.8,63.7 159.5,63.5 159.3,62.7 159.5,62.8 159.8,62.8 159.4,63.7 160.1,63.9 159.5,64.7 160.8,64.8 160.0,65.5 160.7,65.9 160.1,66.5 160.9,66.9 159.8,67.6 160.9,67.9 160.5,68.5 161.1,68.9 160.1,69.6 161.2,69.9 160.7,70.5 161.8,70.8 161.2,71.4 161.9,71.8 161.1,72.4 161.9,72.8 161.6,73.4 162.2,73.7 161.8,74.4 162.6,74.7 161.9,75.4 163.1,75.6 162.3,76.3 162.8,76.7 162.5,77.3 163.0,77.7 162.4,78.4 163.2,78.6 162.7,79.4 163.4,79.6 163.1,80.5 163.7,79.9 163.9,81.3 163.8,80.0 164.2,79.8 163.9,79.1 164.9,79.0 164.2,78.1 164.7,77.8 164.1,77.1 165.0,76.8 164.4,76.2 164.9,75.8 164.6,75.2 165.2,74.8 164.8,74.2 165.3,73.8 164.9,73.2 166.1,72.9 165.2,72.3 165.7,71.8 164.8,71.2 166.0,70.9 165.5,70.3 166.0,69.9 165.8,69.3 166.8,69.0 165.9,68.3 166.6,68.0 166.1,67.3 167.3,67.1 166.2,66.3 167.0,66.0 166.6,65.4 167.3,65.0 166.2,64.2 167.2,64.0 166.4,63.1 167.4,63.1 167.2,62.3 167.5,62.2 167.7,61.5 167.5,62.6 168.0,62.7 167.5,63.5 168.1,63.8 167.8,64.4 168.5,64.8 167.4,65.5 168.6,65.8 168.0,66.4 168.6,66.8 168.3,67.3 168.8,67.8 167.9,68.4 168.9,68.8 168.6,69.3 169.1,69.7 168.6,70.4 169.3,70.7 168.7,71.5 170.0,71.3 169.2,72.4 169.6,72.6 169.5,73.8 170.0,73.1 170.3,73.2 170.1,71.8 170.9,72.2 170.9,71.5 171.9,71.7 171.4,70.7 172.1,70.6 171.8,69.8 172.5,69.6 172.3,68.9 173.2,68.9 172.4,67.8 173.8,68.2 173.1,66.9 174.3,67.4 174.0,66.1 175.0,67.1 175.0,65.8 175.4,66.4 175.8,65.2 176.1,65.8 176.4,65.8 176.4,67.2 177.0,66.5 177.0,67.6 177.6,66.9 177.5,68.4 177.9,68.3 178.1,69.1 178.2,68.1 178.7,68.4 178.6,67.2 179.3,67.5 179.1,66.5 179.8,66.5 179.6,65.8 180.5,65.7 180.0,64.9 181.1,64.9 180.7,64.1 181.5,64.1 181.3,63.2 181.9,63.2 181.9,62.3 182.3,62.3 182.4,60.9 182.9,62.5 183.2,62.2 183.5,63.0 184.0,62.7 184.2,64.0 184.7,63.1 185.0,64.4 185.3,64.1 185.8,65.0 186.1,64.2 186.4,64.1 186.4,63.0 187.0,63.5 187.0,62.4 187.4,62.3 187.3,61.4 188.1,61.9 188.4,61.5 189.2,62.5 189.4,61.5 190.1,62.1 190.5,61.3 191.0,62.1 191.5,61.3 191.9,62.2 192.6,61.3 192.9,62.2 193.5,61.6 193.9,62.2 194.4,62.0 194.9,62.7 195.2,62.1 195.8,63.1 196.0,62.7 196.7,63.3 196.4,62.2 197.1,62.3 196.7,61.4 197.3,61.3 196.4,60.3 197.7,60.3 197.1,59.6 197.9,59.3 197.2,58.6 198.0,58.3 197.6,57.6 198.2,57.4 197.8,56.6 198.5,56.7 198.2,55.3 198.5,55.9 198.9,55.8 198.7,56.9 199.4,56.9 199.1,57.7 199.7,57.9 199.5,58.6 200.2,58.8 199.8,59.6 200.5,59.7 200.2,60.5 201.1,60.4 200.6,61.5 201.6,61.1 201.1,62.3 202.1,61.9 202.2,62.6 202.9,62.3 203.2,62.9 203.8,62.7 204.2,63.3 204.7,63.0 205.2,63.7 205.6,62.8 206.4,63.6 206.2,62.1 207.3,62.9 207.0,61.8 207.9,62.2 207.4,61.1 208.4,61.3 207.9,60.4 208.9,60.4 208.3,59.5 209.0,59.3 208.5,58.6 209.3,58.3 208.5,57.4 209.6,57.4 209.3,56.7 210.0,56.5 209.6,55.7 210.7,55.7 209.9,54.7 211.2,55.0 210.8,54.0 211.6,54.1 211.5,53.1 212.1,53.6 212.4,52.3 212.4,53.1 213.1,52.6 212.4,54.0 213.4,53.9 212.6,54.8 213.3,55.1 212.8,55.7 214.6,55.8 213.0,56.7 214.2,56.9 213.2,57.8 213.9,58.0 213.4,58.8 214.4,58.5 213.2,60.7 214.6,58.8 214.4,60.3 214.9,59.2 215.5,59.8 215.6,58.5 216.6,59.4 216.2,57.9 217.6,58.8 217.0,57.5 218.2,57.9 217.4,56.6 218.5,56.9 217.9,55.8 219.0,56.0 218.7,55.1 220.1,55.9 219.2,54.2 219.8,54.3 219.8,53.3 220.3,53.7 220.7,53.1 221.1,54.0 221.9,53.2 221.5,55.1 222.9,53.7 222.5,54.8 223.5,54.6 222.0,56.3 223.6,55.8 222.8,56.8 224.3,56.6 223.4,57.5 224.4,57.7 223.7,58.5 225.6,58.2 224.1,59.5 225.0,59.5 223.9,61.0 225.4,60.2 225.1,61.5 225.5,61.3 226.1,62.7 225.8,60.8 226.3,60.8 225.9,59.9 226.8,59.8 226.0,59.0 226.9,58.8 226.1,58.1 227.4,57.8 226.3,57.1 227.0,56.7 226.4,56.1 227.2,55.7 226.5,55.1 228.4,55.0 225.9,53.8 227.5,53.8 226.8,52.9 227.6,52.9 227.3,52.0 227.9,52.9 227.8,51.6 228.0,52.8 229.1,51.6 228.3,53.9 229.4,53.2 228.6,55.0 229.9,54.1 229.7,55.2 230.6,54.7 230.3,56.7 231.1,55.4 231.3,56.8 231.7,56.0 232.2,56.3 231.6,54.4 233.4,56.1 232.3,54.2 233.3,54.4 232.5,53.3 234.5,53.9 233.3,52.6 234.1,52.5 233.4,51.4 234.5,51.7 234.3,50.7 234.9,51.0 234.9,49.7 234.9,50.6 236.1,49.8 234.8,51.6 236.0,51.5 234.7,52.6 235.9,52.7 235.2,53.4 236.4,53.7 235.0,54.4 236.1,54.7 235.2,55.4 237.2,55.6 235.6,56.3 236.4,56.7 235.6,57.4 237.0,57.5 235.9,58.4 237.4,58.0 236.2,59.5 236.9,59.2 236.7,61.4 237.1,59.5 237.7,60.0 237.4,58.7 238.0,58.7 237.7,57.7 238.6,57.8 237.9,56.8 239.1,56.9 238.4,55.9 239.5,56.0 239.0,55.1 240.3,55.4 239.5,54.2 241.0,54.9 239.9,53.2 241.0,53.7 241.1,52.9 241.8,53.2 242.0,52.2 242.5,52.8 242.9,51.6 243.2,52.4 243.8,52.1 243.6,53.2 244.4,53.0 244.0,54.0 244.7,54.0 244.4,55.0 245.0,55.0 244.8,55.9 245.6,55.6 245.1,57.2 245.8,56.2 246.1,57.5 246.2,56.3 246.7,56.4 246.0,54.7 247.6,55.8 246.8,54.4 247.9,54.7 246.8,53.1 248.2,53.7 248.0,52.8 248.7,53.0 248.4,51.5 249.1,52.0 249.3,51.6 249.9,53.3 250.4,51.5 250.3,53.8 251.8,51.6 251.3,53.4 252.4,52.9 252.2,53.6 253.2,53.5 252.3,54.6 253.3,54.6 252.6,55.5 253.5,55.6 252.1,56.9 254.0,56.5 252.8,57.7 254.2,57.3 253.3,58.9 254.0,58.4 254.1,59.4 253.8,57.1 254.7,58.2 254.5,57.2 256.0,57.8 254.9,56.4 255.7,56.3 254.4,55.1 256.5,55.6 255.4,54.4 256.7,54.6 255.4,53.1 256.9,53.7 256.7,52.7 257.3,52.9 257.2,51.7 257.6,52.6 257.9,51.8 258.1,52.9 258.5,52.6 258.6,54.7 259.1,53.5 259.2,55.4 259.7,54.2 259.9,55.8 260.2,54.2 261.0,55.4 260.3,52.6 261.5,54.0 261.1,52.5 262.1,53.0 261.9,52.0 262.7,52.2 262.4,51.0 263.6,52.3 263.3,50.2 263.8,51.7 264.1,49.5 264.0,50.8 264.5,50.7 264.0,51.9 264.9,51.8 264.2,52.8 265.2,52.8 264.8,53.5 265.8,53.7 265.0,54.5 265.9,54.7 265.2,55.5 267.1,55.0 265.1,57.0 266.6,56.2 266.2,57.5 266.5,57.4 267.2,58.7 266.8,56.4 267.6,56.9 267.1,55.8 267.9,55.8 267.5,55.0 269.2,55.4 267.8,54.0 268.8,54.1 267.9,52.8 269.5,53.8 268.6,52.0 269.0,52.3 269.3,50.7 269.1,53.1 270.1,52.2 269.7,53.6 270.9,52.7 269.9,54.8 270.8,54.4 270.6,55.4 271.2,55.2 271.1,56.8 271.6,55.9 272.2,56.7 272.1,55.3 273.2,56.2 272.2,54.2 273.1,54.5 272.8,53.6 274.3,54.3 272.4,52.0 274.7,53.4 273.5,51.5 274.7,52.2 274.5,51.2 275.3,51.6 275.5,50.9 276.5,52.2 276.4,50.1 277.2,51.2 277.4,49.5 278.1,51.4 278.6,50.0 279.0,51.4 279.7,50.2 279.9,51.3 281.2,49.6 280.8,51.2 281.8,50.5 281.0,51.9 282.8,51.0 281.2,52.7 282.2,52.7 280.6,53.8 283.4,53.5 281.5,54.4 282.7,54.7 281.8,55.4 282.5,55.8 281.0,56.6 283.1,56.6 282.0,57.4 283.0,57.5 282.2,58.5 282.9,57.6 282.7,59.3 282.6,57.9 283.3,58.1 283.0,57.2 283.7,57.1 283.4,56.3 284.3,56.3 283.3,55.0 284.5,55.3 284.0,54.1 284.8,54.4 284.6,53.2 285.2,53.7 285.3,52.4 286.0,54.3 286.5,52.6 286.8,54.8 287.5,53.2 287.6,55.2 288.3,54.5 288.5,55.6 289.2,55.1 289.5,56.2 290.0,55.5 290.5,57.0 290.9,54.7 291.5,56.7 291.8,54.8 292.5,56.2 292.7,53.4 293.3,55.2 293.7,53.7 294.2,54.8 294.8,53.6 295.0,54.8 295.8,53.0 295.8,55.4 296.4,54.7 296.6,56.0 297.2,55.3 297.3,56.7 297.9,56.0 298.2,57.9 298.8,56.1 299.2,56.5 299.5,55.2 300.2,56.2 300.4,55.2 301.0,55.6 301.1,53.9 301.9,55.1 302.2,54.2 302.9,55.5 303.1,53.8 303.7,54.5 304.2,54.0 304.5,54.8 305.2,54.2 305.5,54.9 306.3,54.4 306.3,55.2 307.1,55.1 306.9,56.2 307.7,55.8 307.6,56.8 308.2,56.7 308.2,57.6 308.9,56.7 308.9,58.4 309.2,57.7 309.8,58.8 309.8,57.0 310.7,57.8 310.2,56.1 311.0,56.4 311.0,55.6 311.9,55.9 311.5,54.4 312.3,54.9 312.3,53.7 312.9,54.2 313.2,53.3 313.6,54.0 314.1,53.4 314.1,54.7 314.9,54.3 314.6,55.7 315.6,55.1 315.2,56.4 316.1,56.2 315.3,57.5 316.7,57.0 316.6,57.8 317.4,57.6 317.3,58.5 317.9,58.5 318.0,59.3 318.7,58.2 318.8,60.5 319.0,59.4 319.7,60.4 319.2,57.9 320.0,59.0 319.9,57.7 320.4,57.9 320.4,56.8 321.0,57.4 320.8,55.2 321.5,56.5 321.8,56.1 322.0,57.2 322.5,57.0 322.4,58.0 323.2,57.8 322.9,58.9 324.0,58.3 323.7,59.5 324.3,59.4 324.3,60.3 324.9,60.2 325.0,61.0 325.7,60.4 325.8,61.0 326.6,59.9 326.9,60.4 327.8,58.9 327.7,60.9 328.4,60.2 328.7,61.0 329.3,60.6 329.6,61.4 330.3,61.0 330.1,62.7 331.2,61.4 331.4,62.3 332.1,61.9 332.0,63.3 333.1,62.0 333.2,63.0 333.9,62.6 334.2,63.3 334.9,62.9 335.1,63.7 335.9,63.1 335.8,64.7 336.9,63.3 336.9,64.7 338.0,63.2 337.9,64.8 338.9,63.5 338.9,64.9 339.6,64.6 339.9,65.2 340.7,64.5 340.8,65.6 341.5,65.0 341.8,65.9 342.6,65.2 342.7,66.3 343.4,65.9 343.7,66.6 344.3,66.2 344.6,66.9 345.3,66.3 345.6,67.2 346.3,66.5 346.5,67.5 347.2,67.0 347.5,67.8 348.2,67.3 348.3,68.5 349.2,67.3 349.2,68.8 350.1,67.8 350.3,68.9 351.0,68.4 351.2,69.3 351.9,68.7 352.2,69.4 352.9,68.7 353.0,70.5 353.8,69.3 354.1,70.2 354.7,69.6 355.1,70.3 355.8,69.4 356.1,70.4 356.7,69.7 357.1,70.3 357.8,69.5 358.0,70.4 358.9,69.3 359.0,70.4 359.7,70.1 359.7,71.1 360.4,70.7 360.3,72.0 361.1,71.6 361.1,72.6 361.8,72.2 361.8,73.5 362.7,72.2 362.8,73.5 363.4,72.7 363.8,73.4 364.4,72.7 364.8,73.2 365.4,72.5 365.6,73.7 366.4,72.3 366.7,72.9 367.5,71.9 367.5,73.5 368.1,73.1 368.3,74.1 368.9,73.9 368.9,75.1 369.6,74.5 369.8,75.5 370.6,74.3 370.4,76.8 371.3,75.4 371.6,75.9 372.3,75.2 372.6,75.6 373.2,75.0 373.6,75.3 374.2,74.8 374.2,76.0 375.0,75.3 375.1,76.4 375.7,76.2 375.7,77.3 376.5,76.8 376.1,78.5 377.3,77.4 377.1,78.6 378.0,77.9 378.2,78.7 378.9,78.2 379.1,79.1 380.0,78.1 380.2,79.0 380.9,78.6 381.1,79.2 381.8,78.9 381.7,80.3 383.1,78.6 382.7,80.3 383.5,79.9 383.5,81.0 384.3,80.6 384.3,81.5 385.2,81.0 384.9,82.4 385.9,81.8 385.7,83.2 386.9,81.9 386.9,83.1 387.9,82.3 387.9,83.4 388.6,83.0 388.8,83.7 389.5,83.5 389.6,84.2 390.5,83.8 390.5,84.8 391.3,84.4 391.2,85.4 392.0,85.2 391.9,86.2 392.7,85.9 392.5,87.0 393.4,86.6 393.5,87.3 394.4,86.9 394.2,88.0 395.0,87.7 395.0,88.7 396.0,88.0 395.9,89.1 396.7,88.7 396.8,89.6 397.6,89.3 397.8,89.9 398.5,89.6 398.7,90.3 399.4,90.0 399.7,90.5 400.4,90.3 400.5,91.1 401.1,91.1 401.0,92.2 401.9,91.7 402.0,92.4 402.7,92.3 402.8,93.0 403.5,92.9 403.6,93.6 404.3,93.6 404.5,94.1 405.4,93.8 404.9,95.2 405.9,94.8 406.0,95.3 406.9,95.0 406.6,96.3 407.5,95.9 407.6,96.6 408.3,96.6 408.1,97.5 409.0,97.2 409.2,97.9 409.8,97.9 409.8,98.6 410.7,98.4 410.4,99.5 411.3,99.2 411.3,99.9 412.1,99.8 412.2,100.4 412.9,100.4 413.0,101.0 413.7,101.0 413.7,101.8 414.4,101.7 414.2,102.7 415.3,102.2 415.3,103.0 416.0,103.0 415.7,104.0 416.8,103.5 416.8,104.3 417.5,104.3 417.5,105.1 418.4,104.8 418.1,105.9 419.0,105.5 419.1,106.2 419.8,106.2 419.9,106.8 420.6,106.8 420.6,107.6 421.6,107.2 421.1,108.5 422.3,107.8 422.2,108.8 422.8,108.8 423.0,109.4 423.7,109.3 423.6,110.2 424.4,110.1 424.4,110.7 425.1,110.8 425.2,111.4 425.8,111.5 425.9,112.1 426.5,112.2 426.6,112.8 427.5,112.6 427.3,113.5 427.9,113.6 427.9,114.3 428.6,114.3 428.8,114.9 429.7,114.6 429.3,115.7 430.1,115.7 430.0,116.4 430.9,116.3 430.7,117.2 431.5,117.1 431.5,117.8 432.2,117.8 432.2,118.5 432.9,118.5 432.8,119.3 433.6,119.2 433.7,119.8 434.3,120.0 434.4,120.5 435.1,120.5 435.1,121.2 435.8,121.3 435.8,122.0 436.4,122.1 436.5,122.7 437.2,122.7 437.2,123.4 438.2,123.2 437.9,124.1 438.6,124.2 438.6,124.8 439.2,124.9 439.2,125.7 440.0,125.6 440.1,126.2 440.7,126.3 440.8,126.9 441.5,126.9 441.5,127.6 442.1,127.7 442.1,128.4 442.8,128.4 442.8,129.1 443.7,128.9 443.6,129.8 444.2,129.8 444.2,130.6 445.0,130.4 444.5,131.6 446.1,130.8 445.5,132.1 446.8,131.5 446.1,132.9 447.1,132.6 446.9,133.5 447.9,133.3 447.6,134.2 448.5,134.1 448.4,134.9 449.8,134.2 449.0,135.6 450.2,135.2 449.1,136.8 450.8,136.0 450.4,137.0 451.4,136.8 450.4,138.4 451.9,137.7 451.6,138.7 452.7,138.4 452.2,139.4 453.2,139.3 452.9,140.1 454.5,139.4 453.5,140.9 454.7,140.6 453.5,142.3 455.4,141.3 454.2,143.0 456.6,141.6 454.8,143.8 457.3,142.4 455.5,144.5 457.6,143.4 456.9,144.6 457.8,144.6 457.2,145.7 458.5,145.3 457.2,146.9 459.0,146.1 458.7,147.0 460.5,146.3 458.9,148.1 460.3,147.7 458.9,149.3 461.0,148.4 459.6,150.1 461.7,149.1 461.1,150.2 462.4,149.9 461.6,151.0 462.6,150.9 461.2,152.6 463.2,151.7 461.8,153.4 464.0,152.4 462.9,153.8 465.5,152.6 463.0,154.9 465.0,154.2 464.1,155.4 466.1,154.7 464.9,156.1 466.2,155.8 465.4,156.9 467.7,156.0 466.2,157.5 467.2,157.6 465.4,159.2 469.0,157.7 467.1,159.3 468.3,159.2 467.2,160.4 469.0,160.0 467.4,161.4 469.3,160.9 468.6,161.9 470.3,161.5 468.9,162.9 470.1,162.8 469.5,163.7 471.9,162.9 469.5,164.8 471.4,164.4 470.5,165.4 471.6,165.4 469.6,167.1 472.4,166.1 471.5,167.2 473.0,166.9 471.9,168.1 473.0,168.0 471.2,169.6 475.0,168.1 472.3,170.2 474.8,169.4 473.1,170.9 474.6,170.6 473.8,171.6 475.0,171.5 473.0,173.2 476.8,171.7 474.6,173.5 476.7,172.9 475.0,174.4 477.2,173.7 474.2,176.0 477.1,175.0 476.2,176.0 477.5,175.9 476.6,176.9 478.1,176.7 477.2,177.7 478.4,177.6 477.2,178.9 479.7,178.0 478.2,179.5 479.4,179.4 478.4,180.5 480.5,179.9 479.0,181.3 481.2,180.6 479.6,182.1 481.3,181.7 479.7,183.3 482.3,182.3 480.7,183.8 482.2,183.5 479.3,185.8 482.6,184.4 481.7,185.5 483.0,185.3 482.2,186.4 483.8,186.1 480.9,188.4 485.8,186.0 483.0,188.3 485.2,187.5 483.7,189.0 485.1,188.7 484.0,190.0 485.6,189.6 483.9,191.2 487.8,189.5 484.7,191.9 486.6,191.3 485.7,192.5 488.8,191.2 486.3,193.3 488.1,192.8 486.9,194.1 488.3,193.9 487.3,195.0 490.7,193.7 486.3,196.7 489.2,195.6 487.6,197.1 489.8,196.5 488.6,197.7 490.2,197.4 488.4,198.9 490.7,198.3 489.0,199.7 491.0,199.2 490.2,200.2 491.5,200.1 488.7,202.1 492.1,200.9 490.5,202.3 492.8,201.7 491.5,202.9 493.0,202.7 491.7,204.0 494.2,203.2 491.9,205.0 494.7,204.0 492.4,205.9 494.9,205.1 493.4,206.4 494.8,206.3 493.9,207.3 496.2,206.7 493.4,208.7 496.3,207.8 494.8,209.1 496.6,208.7 494.6,210.3 497.2,209.6 495.1,211.1 497.9,210.4 495.5,212.0 498.1,211.4 495.6,213.1 498.7,212.2 495.2,214.4 498.4,213.4 496.3,215.0 499.0,214.3 496.1,216.2 500.9,214.5 496.4,217.1 501.3,215.4 498.6,217.2 501.7,216.3 498.6,218.3 500.6,217.9 497.5,219.9 501.0,218.9 498.1,220.8 501.6,219.7 500.1,221.0 501.8,220.7 500.7,221.8 502.2,221.6 501.2,222.7 503.4,222.1 499.9,224.5 503.1,223.3 502.0,224.5 503.5,224.3 502.6,225.3 504.0,225.1 502.8,226.3 504.4,226.1 503.3,227.2 505.6,226.6 503.9,228.0 505.5,227.8 503.7,229.2 505.8,228.7 504.2,230.1 506.4,229.5 504.9,230.9 507.5,230.1 505.8,231.5 509.2,230.5 506.1,232.5 509.5,231.5 506.7,233.3 509.8,232.5 507.0,234.2 508.4,234.2 507.3,235.2 509.4,234.9 505.9,236.8 509.3,236.0 507.3,237.3 509.5,237.0 508.0,238.1 510.4,237.8 508.7,238.9 511.0,238.6 508.4,240.0 510.5,239.9 509.3,240.8 511.3,240.7 509.1,241.8 511.0,241.8 509.9,242.6 511.3,242.8 510.0,243.7 511.6,243.8 508.4,245.1 511.9,244.7 510.1,245.7 512.0,245.7 510.5,246.6"/>
</g>
<g shape-rendering="crispEdges" fill="#000000">
<rect x="52" y="35" width="2" height="508"/>
<rect x="52" y="541" width="538" height="2"/>
<rect x="52" y="35" width="538" height="1"/>
<rect x="589" y="35" width="1" height="508"/>
</g>
<text x="301" y="25" font-family="'Liberation Sans', Arial, Helvetica, sans-serif" font-size="13.3" font-weight="bold" fill="#000080" text-anchor="middle" letter-spacing="-0.2">Dyno result</text>
<g font-family="'Liberation Sans', Arial, Helvetica, sans-serif" font-size="11" fill="#000000" stroke="#000000" stroke-width="0.25" text-anchor="end">
<text x="46" y="535.5">0</text>
<text x="46" y="517.5">10</text>
<text x="46" y="499.5">20</text>
<text x="46" y="481.5">30</text>
<text x="46" y="464.5">40</text>
<text x="46" y="446.5">50</text>
<text x="46" y="428.5">60</text>
<text x="46" y="410.5">70</text>
<text x="46" y="392.5">80</text>
<text x="46" y="374.5">90</text>
<text x="46" y="356.5">100</text>
<text x="46" y="339.5">110</text>
<text x="46" y="321.5">120</text>
<text x="46" y="303.5">130</text>
<text x="46" y="285.5">140</text>
<text x="46" y="267.5">150</text>
<text x="46" y="249.5">160</text>
<text x="46" y="231.5">170</text>
<text x="46" y="214.5">180</text>
<text x="46" y="196.5">190</text>
<text x="46" y="178.5">200</text>
<text x="46" y="160.5">210</text>
<text x="46" y="142.5">220</text>
<text x="46" y="124.5">230</text>
<text x="46" y="106.5">240</text>
<text x="46" y="89.5">250</text>
<text x="46" y="71.5">260</text>
<text x="46" y="53.5">270</text>
</g>
<g font-family="'Liberation Sans', Arial, Helvetica, sans-serif" font-size="11" fill="#000000" stroke="#000000" stroke-width="0.25" text-anchor="middle" letter-spacing="-0.1">
<text x="62.4" y="559.5">1,500</text>
<text x="109.4" y="559.5">2,000</text>
<text x="156.4" y="559.5">2,500</text>
<text x="203.4" y="559.5">3,000</text>
<text x="250.4" y="559.5">3,500</text>
<text x="297.4" y="559.5">4,000</text>
<text x="343.4" y="559.5">4,500</text>
<text x="390.4" y="559.5">5,000</text>
<text x="437.4" y="559.5">5,500</text>
<text x="484.4" y="559.5">6,000</text>
<text x="531.4" y="559.5">6,500</text>
<text x="578.4" y="559.5">7,000</text>
</g>
<text x="321" y="574" font-family="'Liberation Sans', Arial, Helvetica, sans-serif" font-size="11" font-weight="bold" fill="#000000" text-anchor="middle" letter-spacing="0.18">Engine Speed (RPM)</text>
<text transform="translate(22,288) rotate(-90)" font-family="'Liberation Sans', Arial, Helvetica, sans-serif" font-size="11" font-weight="bold" fill="#ff0000" text-anchor="middle" letter-spacing="0.17">Power / Torque</text>
<rect x="97.5" y="581.5" width="405" height="32" fill="#d0d0d0" stroke="#bcbcbc" stroke-width="1" shape-rendering="crispEdges"/>
<g fill="none" stroke-width="3" stroke-linecap="round">
<line x1="103.5" y1="590.5" x2="141.5" y2="590.5" stroke="#ff0000"/>
<line x1="103.5" y1="604.5" x2="141.5" y2="604.5" stroke="#008000"/>
<line x1="303.5" y1="590.5" x2="341.5" y2="590.5" stroke="#0000ff"/>
<line x1="303.5" y1="604.5" x2="341.5" y2="604.5" stroke="#ffa500"/>
</g>
<g font-family="'Liberation Sans', Arial, Helvetica, sans-serif" font-size="11" stroke-width="0.08">
<text y="594" fill="#ff0000" stroke="#ff0000"><tspan x="148">Max Power: 273</tspan><tspan x="229.7" letter-spacing="-0.55">(HP)</tspan><tspan x="254.2">@</tspan><tspan x="267.9" letter-spacing="-0.15">5937</tspan></text>
<text y="608" fill="#008000" stroke="#008000"><tspan x="148">Max Power: 241</tspan><tspan x="229.7" letter-spacing="-0.55">(HP)</tspan><tspan x="254.2">@</tspan><tspan x="267.9" letter-spacing="-0.15">5314</tspan></text>
<text x="348" y="594" fill="#0000ff" stroke="#0000ff">Max Torque: 268 (lb-ft) @ 4631</text>
<text x="348" y="608" fill="#ffa500" stroke="#ffa500">Max Torque: 270 (lb-ft) @ 3646</text>
</g>
</svg>
</body>
</html>
